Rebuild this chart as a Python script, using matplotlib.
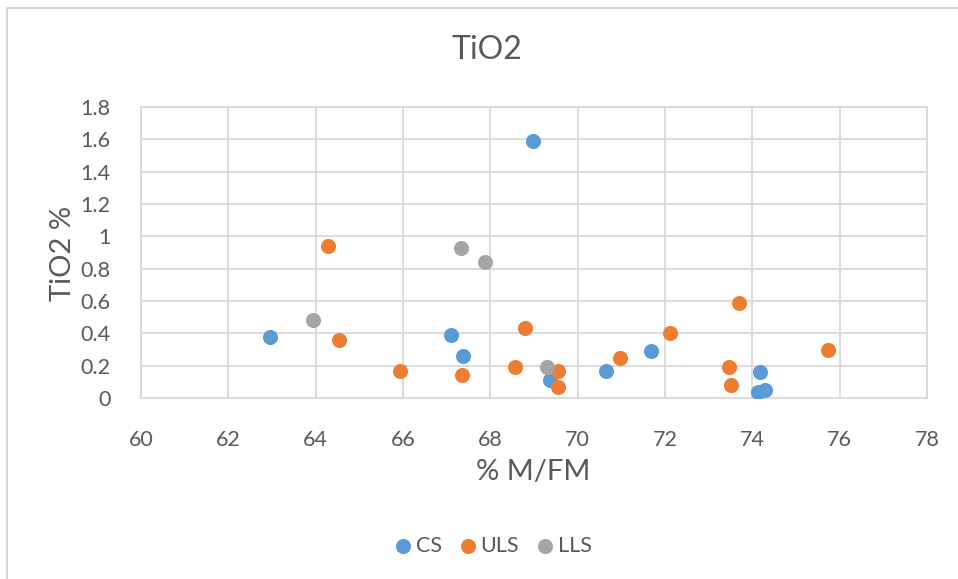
import matplotlib.pyplot as plt
from matplotlib.lines import Line2D

# % M/FM vs TiO2 % for each group
cs_x = [68.98, 62.96, 67.11, 67.37, 69.36, 70.65, 71.69, 74.18, 74.12, 74.29]
cs_y = [1.59, 0.38, 0.39, 0.26, 0.11, 0.17, 0.29, 0.16, 0.04, 0.05]

uls_x = [64.28, 64.53, 65.94, 67.35, 68.79, 68.56, 69.55, 69.55, 70.98, 72.11,
         73.69, 73.46, 73.52, 75.74]
uls_y = [0.94, 0.36, 0.17, 0.14, 0.43, 0.19, 0.17, 0.07, 0.25, 0.40,
         0.59, 0.19, 0.08, 0.30]

lls_x = [63.94, 67.32, 67.88, 69.30]
lls_y = [0.48, 0.93, 0.84, 0.19]

x_ticks = [60, 62, 64, 66, 68, 70, 72, 74, 76, 78]
y_ticks = [0, 0.2, 0.4, 0.6, 0.8, 1.0, 1.2, 1.4, 1.6, 1.8]
y_labels = ['0', '0.2', '0.4', '0.6', '0.8', '1', '1.2', '1.4', '1.6', '1.8']

plt.rcParams['font.family'] = ['Lato', 'DejaVu Sans']
text_color = '#595959'
grid_color = '#D9D9D9'

W, H = 958, 579
fig = plt.figure(figsize=(W / 100, H / 100), dpi=100)
ax = fig.add_axes([141 / W, 1 - 398 / H, (927 - 141) / W, (398 - 107) / H])

ms = 118
ax.scatter(cs_x, cs_y, s=ms, color='#5B9BD5', label='CS', zorder=3, linewidths=0)
ax.scatter(uls_x, uls_y, s=ms, color='#ED7D31', label='ULS', zorder=3, linewidths=0)
ax.scatter(lls_x, lls_y, s=ms, color='#A5A5A5', label='LLS', zorder=3, linewidths=0)

ax.set_xlim(60, 78)
ax.set_ylim(0, 1.8)
ax.set_xticks(x_ticks)
ax.set_yticks(y_ticks)
ax.set_yticklabels(y_labels)
ax.grid(True, color=grid_color, linewidth=1.3)
ax.set_axisbelow(True)
for sp in ax.spines.values():
    sp.set_color(grid_color)
    sp.set_linewidth(1.3)
ax.tick_params(length=0, colors=text_color, labelsize=15.5)
ax.tick_params(axis='x', pad=23)
ax.tick_params(axis='y', pad=22)

fig.text(487 / W, 1 - 50 / H, 'TiO2', ha='center', va='center',
         fontsize=23, color=text_color)
fig.text(533 / W, 1 - 472 / H, '% M/FM', ha='center', va='center',
         fontsize=21, color=text_color)
fig.text(63 / W, 1 - 253 / H, 'TiO2 %', ha='center', va='center',
         fontsize=21, color=text_color, rotation=90)

fig.legend(loc='center', bbox_to_anchor=(492 / W, 1 - 546 / H), ncol=3,
           frameon=False, fontsize=15.5, labelcolor=text_color,
           handlelength=1.0, handletextpad=0.1, columnspacing=0.7,
           markerscale=1.0)

# chart area border (top and left edges)
fig.add_artist(Line2D([7 / W, 7 / W], [0, 1 - 8 / H], color=grid_color,
                      linewidth=1.5, transform=fig.transFigure))
fig.add_artist(Line2D([7 / W, 1], [1 - 8 / H, 1 - 8 / H], color=grid_color,
                      linewidth=1.5, transform=fig.transFigure))

fig.savefig('out.png', dpi=100)
